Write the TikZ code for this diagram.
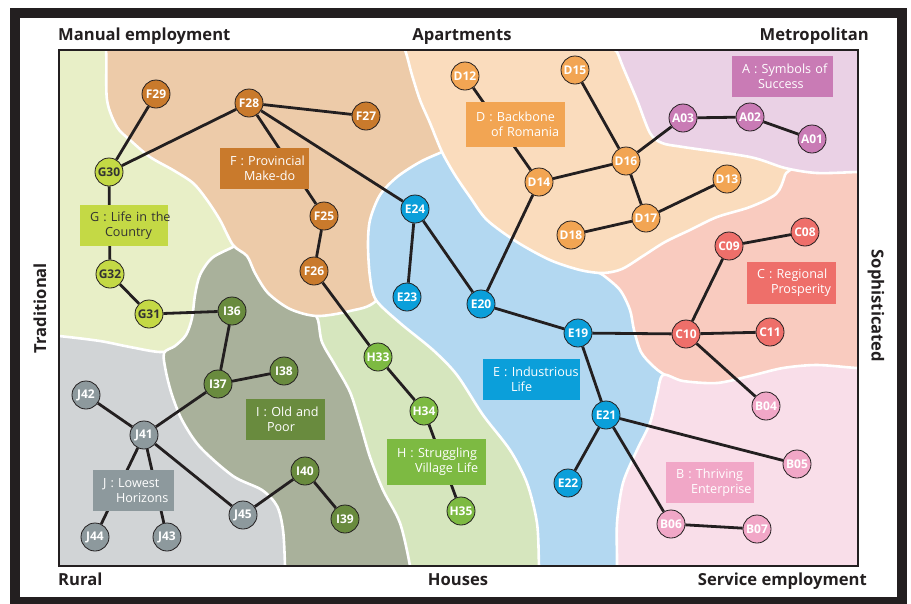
\documentclass[tikz,border=0pt]{standalone}
\usepackage{fontspec}
\setmainfont{Open Sans}
\definecolor{ink}{HTML}{231F20}
\definecolor{Fn}{HTML}{C97A2C}\definecolor{Fr}{HTML}{EDCBA9}
\definecolor{Gn}{HTML}{C4D945}\definecolor{Gr}{HTML}{E8EFC7}
\definecolor{Dn}{HTML}{F2A553}\definecolor{Dr}{HTML}{FADCBD}
\definecolor{An}{HTML}{C97BB5}\definecolor{Ar}{HTML}{EAD1E5}
\definecolor{Cn}{HTML}{EE6F6A}\definecolor{Cr}{HTML}{F9CBBF}
\definecolor{En}{HTML}{0B9FDA}\definecolor{Er}{HTML}{B3D8F1}
\definecolor{Bn}{HTML}{F1A7C7}\definecolor{Br}{HTML}{F9DEE9}
\definecolor{Hn}{HTML}{7DBA42}\definecolor{Hr}{HTML}{D6E6BE}
\definecolor{In}{HTML}{698B3E}\definecolor{Ir}{HTML}{A9B19B}
\definecolor{Jn}{HTML}{8D999D}\definecolor{Jr}{HTML}{D1D4D6}
\definecolor{Gtext}{HTML}{333333}
\pgfdeclarelayer{bg}\pgfdeclarelayer{edges}
\pgfsetlayers{bg,edges,main}
\tikzset{
  region/.style={draw=white, line width=2.6pt},
  nd/.style={circle, draw=ink, line width=0.8pt, minimum size=28pt, inner sep=0pt, text=white, font=\bfseries\fontsize{12}{12}\selectfont},
  lbl/.style={rectangle, inner xsep=10pt, inner ysep=0pt, align=left, text=white, font=\fontsize{12.6}{15}\selectfont},
  edge/.style={draw=ink, line width=2.8pt},
  axis/.style={font=\bfseries\fontsize{16.6}{18}\selectfont, text=ink, inner sep=0pt},
}
\begin{document}
\begin{tikzpicture}[x=1pt,y=-1pt]
\useasboundingbox (0,0) rectangle (911,603);
\begin{pgfonlayer}{bg}
\begin{scope}
\clip (0,0) rectangle (911,603);
\draw[ink, line width=10pt] (15,13) rectangle (902,602);
\end{scope}
\begin{scope}
\clip (59,50) rectangle (858,566);
\fill[Jr] (40,30) rectangle (880,590);
% G
\filldraw[fill=Gr, region] plot[smooth cycle] coordinates {(40,30) (260,30) (260,230) (225,280) (195,335) (180,348) (160,352) (130,347) (100,341) (59,336) (40,335)};
% I
\filldraw[fill=Ir, region] plot[smooth cycle] coordinates {(233,247) (212,258) (200,275) (195,295) (192,318) (186,335) (175,346) (164,353) (166,372) (172,395) (182,420) (200,447) (233,476) (262,490) (277,506) (283,530) (285,566) (285,590) (440,590) (340,330) (290,250) (250,238)};
% H
\filldraw[fill=Hr, region] plot[smooth cycle] coordinates {(310,296) (318,320) (322,342) (335,365) (350,392) (360,423) (370,457) (383,490) (400,523) (410,566) (412,590) (560,590) (480,380) (380,290)};
% F
\filldraw[fill=Fr, region] plot[smooth cycle] coordinates {(100,30) (106,50) (107,100) (117,127) (130,140) (150,157) (173,170) (193,183) (207,200) (220,220) (233,245) (247,256) (255,273) (268,293) (290,309) (317,316) (350,311) (377,300) (410,250) (430,190) (460,140) (430,30)};
% E
\filldraw[fill=Er, region] plot[smooth cycle] coordinates {(442,152) (420,162) (397,177) (380,195) (370,220) (368,245) (370,277) (376,300) (400,323) (433,350) (457,375) (483,415) (510,450) (527,483) (537,523) (539,566) (540,590) (640,590) (690,385) (645,275) (560,210) (470,140)};
% C
\filldraw[fill=Cr, region] plot[smooth cycle] coordinates {(585,262) (603,275) (620,290) (630,310) (634,330) (641,352) (653,366) (665,375) (700,395) (880,395) (880,150) (760,180) (650,225)};
% D
\filldraw[fill=Dr, region] plot[smooth cycle] coordinates {(395,30) (405,50) (412,75) (420,100) (430,123) (442,152) (455,175) (470,197) (487,220) (517,242) (550,260) (580,270) (603,273) (622,269) (643,256) (665,242) (690,230) (717,217) (750,207) (776,194) (785,175) (790,150) (700,30)};
% A
\filldraw[fill=Ar, region] plot[smooth cycle] coordinates {(605,30) (617,52) (623,67) (637,100) (650,133) (662,143) (683,147) (750,157) (785,168) (817,173) (858,172) (880,172) (880,30)};
% B
\filldraw[fill=Br, region] plot[smooth cycle] coordinates {(615,590) (617,566) (617,523) (623,483) (637,450) (650,423) (657,395) (663,375) (683,381) (717,383) (750,376) (783,368) (817,365) (857,368) (880,368) (880,590)};
\end{scope}
\draw[ink, line width=2.5pt] (59,50) rectangle (858,566);
\end{pgfonlayer}

% axis labels
\node[axis, anchor=base west] (tl) at (58,40) {Manual employment};
\node[axis, anchor=base] (tc) at (462,40) {Apartments};
\node[axis, anchor=base east] (tr) at (869,40) {Metropolitan};
\node[axis, anchor=base west] (bl) at (58,585) {Rural};
\node[axis, anchor=base] (bc) at (458,585) {Houses};
\node[axis, anchor=base east] (br) at (867,585) {Service employment};
\node[axis, rotate=90] (lm) at (40,308) {Traditional};
\node[axis, rotate=-90] (rm) at (876,306) {Sophisticated};

% label boxes
\node[lbl, fill=Fn, minimum height=41pt, text width=69pt] (Fbox) at (264.5,168.5) {\mbox{F : Provincial}\\\mbox{\hspace*{14pt}Make-do}};
\node[lbl, fill=Gn, text=Gtext, minimum height=41pt, text width=68pt] (Gbox) at (124,225.5) {\mbox{G : Life in the}\\\mbox{\hspace*{15pt}Country}};
\node[lbl, fill=Dn, minimum height=45pt, text width=79pt] (Dbox) at (515.5,124.5) {\mbox{D : Backbone}\\\mbox{\hspace*{15pt}of Romania}};
\node[lbl, fill=An, minimum height=41pt, text width=81pt] (Abox) at (782.5,76.5) {\mbox{A : Symbols of}\\\mbox{\hspace*{16pt}Success}};
\node[lbl, fill=Cn, minimum height=42pt, text width=69pt] (Cbox) at (791.5,283) {\mbox{C : Regional}\\\mbox{\hspace*{14pt}Prosperity}};
\node[lbl, fill=In, minimum height=41pt, text width=59pt] (Ibox) at (285.5,419.5) {\mbox{I : Old and}\\\mbox{\hspace*{11pt}Poor}};
\node[lbl, fill=Hn, minimum height=46pt, text width=79pt] (Hbox) at (436.5,462) {\mbox{H : Struggling}\\\mbox{\hspace*{18pt}Village Life}};
\node[lbl, fill=Jn, minimum height=41pt, text width=61pt] (Jbox) at (133.5,490.5) {\mbox{J : Lowest}\\\mbox{\hspace*{13pt}Horizons}};
\node[lbl, fill=En, minimum height=41pt, text width=77pt] (Ebox) at (531.5,379.5) {\mbox{E : Industrious}\\\mbox{\hspace*{18pt}Life}};
\node[lbl, fill=Bn, minimum height=41pt, text width=68pt] (Bbox) at (710,482.5) {\mbox{B : Thriving}\\\mbox{\hspace*{15pt}Enterprise}};

% nodes
\node[nd, fill=Fn] (F29) at (156,94) {F29};
\node[nd, fill=Fn] (F28) at (249,103) {F28};
\node[nd, fill=Fn] (F27) at (366,116) {F27};
\node[nd, fill=Fn] (F25) at (324,216) {F25};
\node[nd, fill=Fn] (F26) at (314,271) {F26};
\node[nd, fill=Gn, text=Gtext] (G30) at (109,172) {G30};
\node[nd, fill=Gn, text=Gtext] (G32) at (110,274) {G32};
\node[nd, fill=Gn, text=Gtext] (G31) at (149,314) {G31};
\node[nd, fill=En] (E24) at (415,209) {E24};
\node[nd, fill=En] (E23) at (407,297) {E23};
\node[nd, fill=En] (E20) at (481,304) {E20};
\node[nd, fill=En] (E19) at (578,333) {E19};
\node[nd, fill=En] (E21) at (606,415) {E21};
\node[nd, fill=En] (E22) at (568,483) {E22};
\node[nd, fill=In] (I36) at (232,311) {I36};
\node[nd, fill=In] (I37) at (218,384) {I37};
\node[nd, fill=In] (I38) at (284,371) {I38};
\node[nd, fill=In] (I40) at (305,471) {I40};
\node[nd, fill=In] (I39) at (345,519) {I39};
\node[nd, fill=Jn] (J42) at (86,395) {J42};
\node[nd, fill=Jn] (J41) at (144,435) {J41};
\node[nd, fill=Jn] (J45) at (243,515) {J45};
\node[nd, fill=Jn] (J44) at (95,537) {J44};
\node[nd, fill=Jn] (J43) at (167,537) {J43};
\node[nd, fill=Hn] (H33) at (378,357) {H33};
\node[nd, fill=Hn] (H34) at (424,411) {H34};
\node[nd, fill=Hn] (H35) at (461,511) {H35};
\node[nd, fill=Dn] (D12) at (465,76) {D12};
\node[nd, fill=Dn] (D15) at (575,70) {D15};
\node[nd, fill=Dn] (D16) at (626,161) {D16};
\node[nd, fill=Dn] (D14) at (539,182) {D14};
\node[nd, fill=Dn] (D13) at (727,179) {D13};
\node[nd, fill=Dn] (D17) at (646,218) {D17};
\node[nd, fill=Dn] (D18) at (571,235) {D18};
\node[nd, fill=An] (A03) at (683,118) {A03};
\node[nd, fill=An] (A02) at (750,117) {A02};
\node[nd, fill=An] (A01) at (812,139) {A01};
\node[nd, fill=Cn] (C08) at (805,232) {C08};
\node[nd, fill=Cn] (C09) at (729,246) {C09};
\node[nd, fill=Cn] (C10) at (686,334) {C10};
\node[nd, fill=Cn] (C11) at (770,332) {C11};
\node[nd, fill=Bn] (B04) at (766,406) {B04};
\node[nd, fill=Bn] (B05) at (797,464) {B05};
\node[nd, fill=Bn] (B06) at (671,524) {B06};
\node[nd, fill=Bn] (B07) at (757,529) {B07};

\begin{pgfonlayer}{edges}
\draw[edge] (F29) -- (G30);
\draw[edge] (G30) -- (F28);
\draw[edge] (F28) -- (F27);
\draw[edge] (F28) -- (F25);
\draw[edge] (F28) -- (E24);
\draw[edge] (F25) -- (F26);
\draw[edge] (F26) -- (H33);
\draw[edge] (G30) -- (G32);
\draw[edge] (G32) -- (G31);
\draw[edge] (G31) -- (I36);
\draw[edge] (I36) -- (I37);
\draw[edge] (I37) -- (I38);
\draw[edge] (I37) -- (J41);
\draw[edge] (J42) -- (J41);
\draw[edge] (J41) -- (J44);
\draw[edge] (J41) -- (J43);
\draw[edge] (J41) -- (J45);
\draw[edge] (J45) -- (I40);
\draw[edge] (I40) -- (I39);
\draw[edge] (H33) -- (H34);
\draw[edge] (H34) -- (H35);
\draw[edge] (E24) -- (E23);
\draw[edge] (E24) -- (E20);
\draw[edge] (E20) -- (D14);
\draw[edge] (D12) -- (D14);
\draw[edge] (D14) -- (D16);
\draw[edge] (D15) -- (D16);
\draw[edge] (D16) -- (A03);
\draw[edge] (A03) -- (A02);
\draw[edge] (A02) -- (A01);
\draw[edge] (D16) -- (D17);
\draw[edge] (D17) -- (D13);
\draw[edge] (D17) -- (D18);
\draw[edge] (E20) -- (E19);
\draw[edge] (E19) -- (C10);
\draw[edge] (C10) -- (C09);
\draw[edge] (C09) -- (C08);
\draw[edge] (C10) -- (C11);
\draw[edge] (C10) -- (B04);
\draw[edge] (E19) -- (E21);
\draw[edge] (E21) -- (E22);
\draw[edge] (E21) -- (B05);
\draw[edge] (E21) -- (B06);
\draw[edge] (B06) -- (B07);
\end{pgfonlayer}
\end{tikzpicture}
\end{document}
